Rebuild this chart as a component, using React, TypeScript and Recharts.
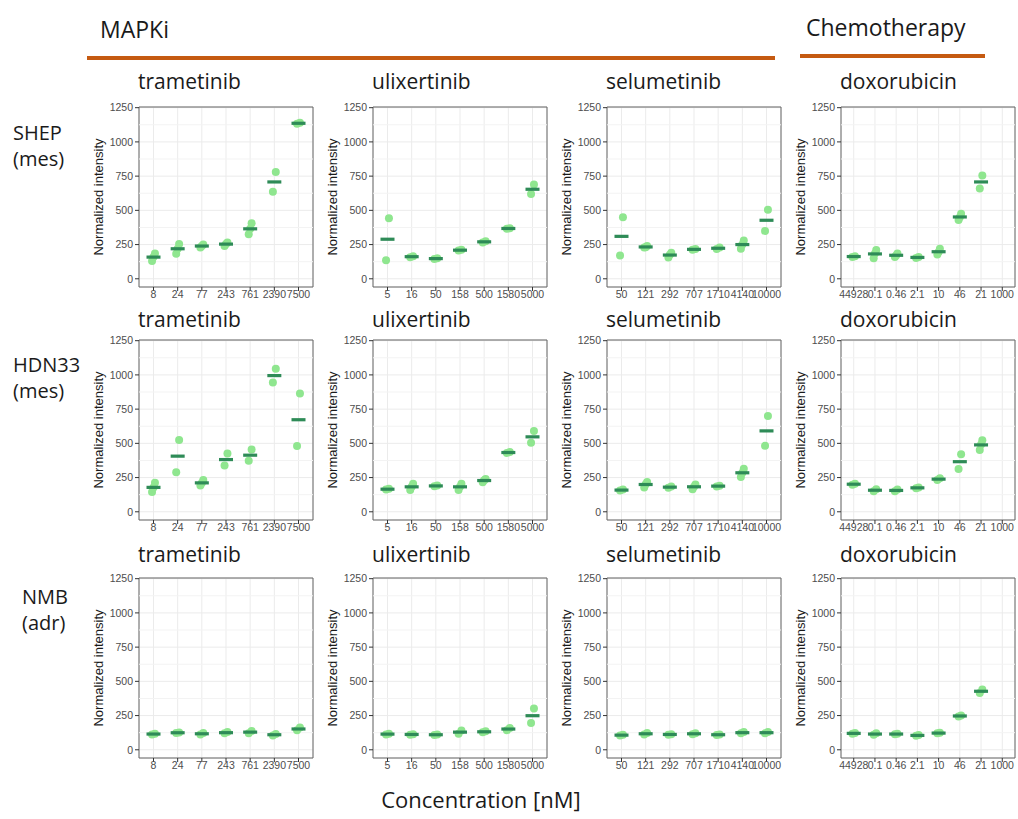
import React from 'react';
import {
  ScatterChart, Scatter, XAxis, YAxis, CartesianGrid, ReferenceLine, ReferenceArea
} from 'recharts';

// concentration labels per drug (as printed on the x axes)
const trametinibDoses = ['8', '24', '77', '243', '761', '2390', '7500'];
const ulixertinibDoses = ['5', '16', '50', '158', '500', '1580', '5000'];
const selumetinibDoses = ['50', '121', '292', '707', '1710', '4140', '10000'];
const doxorubicinDoses = ['44928', '0.1', '0.46', '2.1', '10', '46', '21', '1000'];

// replicate intensities, one inner list per concentration
const shepTrametinib = [[185, 130, 160], [255, 183, 220], [250, 228, 240], [265, 240, 255], [405, 325, 365], [780, 635], [1140, 1132]];
const shepUlixertinib = [[443, 135], [165, 158], [150, 145], [212, 206], [275, 265], [370, 365], [688, 620]];
const shepSelumetinib = [[450, 170], [240, 228, 230], [190, 155, 175], [218, 212], [228, 218], [280, 220, 250], [505, 350]];
const shepDoxorubicin = [[165, 160], [210, 150, 185], [185, 160, 170], [160, 152], [220, 178, 195], [475, 430, 450], [755, 660]];

const hdnTrametinib = [[212, 145, 178], [525, 288], [232, 192, 210], [425, 338], [455, 372], [1045, 945], [865, 480]];
const hdnUlixertinib = [[168, 162], [205, 160, 182], [192, 186], [205, 160, 182], [240, 215, 230], [436, 430], [590, 505]];
const hdnSelumetinib = [[162, 155], [218, 178, 202], [185, 175], [200, 165, 183], [190, 185], [315, 255, 285], [700, 482]];
const hdnDoxorubicin = [[205, 198], [165, 150], [162, 150], [178, 172], [245, 232], [420, 312], [522, 452, 492]];

const nmbTrametinib = [[118, 112], [127, 122], [122, 112], [130, 120], [138, 120], [115, 105], [162, 142]];
const nmbUlixertinib = [[117, 112], [114, 110], [112, 108], [140, 118], [135, 128], [160, 143], [302, 196]];
const nmbSelumetinib = [[110, 104], [122, 112], [114, 110], [120, 114], [112, 108], [130, 120], [130, 120]];
const nmbDoxorubicin = [[122, 118], [120, 110], [117, 113], [108, 102], [124, 120], [250, 244], [440, 415]];

const yTicks = [0, 250, 500, 750, 1000, 1250];
const yMinor = [125, 375, 625, 875, 1125];
const Y_DOMAIN: [number, number] = [-60, 1255];

const PLOT_W = 174;
const PLOT_H = 180;
const colLeft = [139, 373, 607, 841];
const rowTop = [107, 340, 578];
const titleBase = [89, 327, 562];

const dodge = [0.06, -0.06, 0];

const Dot = (p: any) => <circle cx={p.cx} cy={p.cy} r={4} fill="#8FE68F" />;
const MeanBar = (p: any) => (
  <rect x={p.cx - 7} y={p.cy - 1.6} width={14} height={3.2} fill="#2E8B57" />
);

const tickStyle = { fontSize: 10.5, fill: '#4D4D4D', fontFamily: 'Liberation Sans' };

const Panel = ({ doses, reps, left, top }: { doses: string[]; reps: number[][]; left: number; top: number }) => {
  const points = reps.flatMap((vals, i) => vals.map((v, j) => ({ x: i + dodge[j], y: v })));
  const means = reps.map((vals, i) => ({ x: i, y: vals.reduce((a, b) => a + b, 0) / vals.length }));
  const n = doses.length;
  const idx = doses.map((_, i) => i);
  return (
    <div style={{ position: 'absolute', left: left - 60, top: top - 10 }}>
      <ScatterChart width={60 + PLOT_W + 10} height={10 + PLOT_H + 30}
        margin={{ top: 10, right: 10, bottom: 0, left: 10 }}>
        <CartesianGrid stroke="#EBEBEB" strokeWidth={1} />
        {yMinor.map(v => (
          <ReferenceLine key={v} y={v} stroke="#F3F3F3" strokeWidth={1} />
        ))}
        <XAxis type="number" dataKey="x" domain={[-0.6, n - 0.4]} ticks={idx} interval={0}
          allowDataOverflow tickFormatter={(i: number) => doses[i] ?? ''}
          axisLine={false} tickLine={{ stroke: '#333' }} tickSize={4} tickMargin={0} height={30}
          tick={tickStyle} />
        <YAxis type="number" dataKey="y" domain={Y_DOMAIN} ticks={yTicks} interval={0}
          allowDataOverflow width={50} axisLine={false} tickLine={{ stroke: '#333' }} tickSize={4}
          tick={tickStyle}
          label={{
            value: 'Normalized intensity', angle: -90, position: 'insideLeft', offset: 9,
            style: { textAnchor: 'middle', fontSize: 13, fill: '#1A1A1A', fontFamily: 'Liberation Sans' }
          }} />
        <ReferenceArea x1={-0.6} x2={n - 0.4} y1={Y_DOMAIN[0]} y2={Y_DOMAIN[1]}
          fill="none" stroke="#666" strokeWidth={1} />
        <Scatter data={points} shape={Dot} isAnimationActive={false} />
        <Scatter data={means} shape={MeanBar} isAnimationActive={false} />
      </ScatterChart>
    </div>
  );
};

const drugs = ['trametinib', 'ulixertinib', 'selumetinib', 'doxorubicin'];
const doseSets = [trametinibDoses, ulixertinibDoses, selumetinibDoses, doxorubicinDoses];
const grid = [
  [shepTrametinib, shepUlixertinib, shepSelumetinib, shepDoxorubicin],
  [hdnTrametinib, hdnUlixertinib, hdnSelumetinib, hdnDoxorubicin],
  [nmbTrametinib, nmbUlixertinib, nmbSelumetinib, nmbDoxorubicin],
];
const cellLines = [['SHEP', '(mes)'], ['HDN33', '(mes)'], ['NMB', '(adr)']];
const cellLineX = [13, 13, 22];
const cellLineBase = [[140, 166], [372, 398], [604, 630]];

export default function App() {
  return (
    <div style={{ position: 'absolute', left: 0, top: 0, width: 1018, height: 819, background: '#fff' }}>
      <svg width={1018} height={819} style={{ position: 'absolute', left: 0, top: 0 }}
        fontFamily="Open Sans" fill="#1A1A1A">
        <text x={100} y={38} fontSize={23}>MAPKi</text>
        <text x={806} y={36} fontSize={23}>Chemotherapy</text>
        <line x1={87} y1={58} x2={775} y2={58} stroke="#C55A11" strokeWidth={4} />
        <line x1={800} y1={56} x2={985} y2={56} stroke="#C55A11" strokeWidth={4} />
        {cellLines.map((lines, r) => lines.map((t, k) => (
          <text key={`${r}-${k}`} x={cellLineX[r]} y={cellLineBase[r][k]} fontSize={20}>{t}</text>
        )))}
        {rowTop.map((_, r) => drugs.map((d, c) => (
          <text key={`${d}-${r}`} x={colLeft[c] - 1} y={titleBase[r]} fontSize={21}>{d}</text>
        )))}
        <text x={481} y={808} fontSize={22} textAnchor="middle">Concentration [nM]</text>
      </svg>
      {grid.map((row, r) => row.map((reps, c) => (
        <Panel key={`${r}-${c}`} doses={doseSets[c]} reps={reps} left={colLeft[c]} top={rowTop[r]} />
      )))}
    </div>
  );
}
